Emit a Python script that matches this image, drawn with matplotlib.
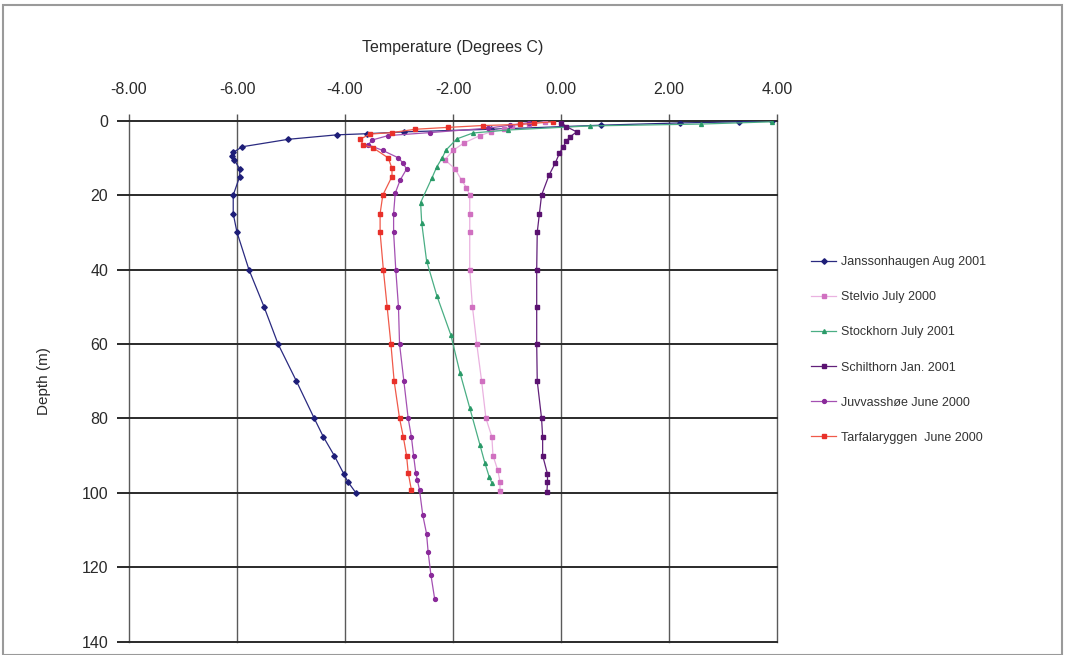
import matplotlib
matplotlib.use("Agg")
import matplotlib.pyplot as plt
from matplotlib.patches import Rectangle

plt.rcParams['font.family'] = ['Liberation Sans', 'DejaVu Sans']

# ---- data (depth in m, temperature in deg C) ----
jan_depth = [0, 0.3, 0.6, 1.2, 2.3, 3.0, 3.5, 3.8, 5, 7, 8.5, 9.5, 10.5, 13, 15, 20, 25, 30, 40, 50, 60, 70, 80, 85, 90, 95, 97, 100]
jan_temp = [3.9, 3.3, 2.2, 0.75, -1.3, -2.9, -3.6, -4.15, -5.05, -5.9, -6.07, -6.1, -6.05, -5.95, -5.95, -6.07, -6.07, -6.0, -5.78, -5.5, -5.24, -4.9, -4.57, -4.4, -4.2, -4.02, -3.95, -3.8]

ste_depth = [0.3, 0.8, 1.5, 2.2, 3.0, 4.0, 6, 8, 10.5, 13, 16, 18, 20, 25, 30, 40, 50, 60, 70, 80, 85, 90, 94, 97, 99.5]
ste_temp = [-0.3, -0.6, -0.9, -1.05, -1.3, -1.5, -1.8, -2.0, -2.15, -1.96, -1.84, -1.75, -1.69, -1.69, -1.69, -1.69, -1.64, -1.56, -1.47, -1.39, -1.28, -1.26, -1.17, -1.13, -1.13]

sto_depth = [0.3, 0.9, 1.4, 2.5, 3.3, 4.9, 7.9, 10, 12.4, 15.4, 22, 27.4, 37.6, 47, 57.6, 67.8, 77.2, 87.2, 92, 95.7, 97.4]
sto_temp = [3.9, 2.6, 0.54, -0.98, -1.63, -1.93, -2.13, -2.2, -2.3, -2.39, -2.6, -2.58, -2.49, -2.3, -2.04, -1.87, -1.69, -1.5, -1.41, -1.33, -1.28]

sch_depth = [0.5, 1.6, 3.0, 4.3, 5.5, 7, 8.8, 11.5, 14.6, 20, 25, 30, 40, 50, 60, 70, 80, 85, 90, 95, 97, 99.7]
sch_temp = [0.0, 0.1, 0.29, 0.17, 0.1, 0.04, -0.03, -0.11, -0.22, -0.36, -0.4, -0.44, -0.45, -0.45, -0.45, -0.44, -0.36, -0.34, -0.34, -0.25, -0.25, -0.26]

juv_depth = [0.5, 1.2, 2, 3.2, 4.0, 5.2, 6.5, 8, 10, 11.5, 13, 16, 19.5, 25, 30, 40, 50, 60, 70, 80, 85, 90, 94.6, 96.6, 99.3, 106, 111, 116, 122, 128.5]
juv_temp = [-0.6, -0.94, -1.35, -2.43, -3.2, -3.5, -3.57, -3.3, -3.01, -2.92, -2.86, -2.98, -3.07, -3.1, -3.1, -3.06, -3.01, -2.99, -2.91, -2.83, -2.77, -2.73, -2.69, -2.66, -2.62, -2.56, -2.49, -2.46, -2.41, -2.34]

tar_depth = [0.3, 0.7, 1.0, 1.3, 1.8, 2.3, 3.2, 3.6, 5.0, 6.5, 7.3, 10, 12.8, 15, 20, 25, 30, 40, 50, 60, 70, 80, 85, 90, 94.6, 99.3]
tar_temp = [-0.15, -0.5, -0.76, -1.45, -2.1, -2.7, -3.13, -3.54, -3.72, -3.66, -3.48, -3.2, -3.13, -3.13, -3.3, -3.35, -3.35, -3.29, -3.22, -3.15, -3.09, -2.99, -2.92, -2.86, -2.83, -2.77]

labels = ["Janssonhaugen Aug 2001", "Stelvio July 2000", "Stockhorn July 2001",
          "Schilthorn Jan. 2001", "Juvvasshøe June 2000", "Tarfalaryggen  June 2000"]
x_ticks = [-8, -6, -4, -2, 0, 2, 4]
y_ticks = [0, 20, 40, 60, 80, 100, 120, 140]

fig = plt.figure(figsize=(10.65, 6.55), dpi=100)
fig.patches.append(Rectangle((0.003, 0.0), 0.994, 0.993, transform=fig.transFigure,
                             fill=False, edgecolor='#9a9a9a', linewidth=1.5))

ax = fig.add_axes([129/1065, 1 - 641.5/655, (777-129)/1065, (641.5-120.7)/655])

series = [
    (jan_temp, jan_depth, '#2a2a80', '#1e1e78', 'D'),
    (ste_temp, ste_depth, '#eab2e0', '#d070c0', 's'),
    (sto_temp, sto_depth, '#4aae84', '#2a9a68', '^'),
    (sch_temp, sch_depth, '#62207a', '#5a1270', 's'),
    (juv_temp, juv_depth, '#a450b2', '#8a2a9a', 'o'),
    (tar_temp, tar_depth, '#f05a4a', '#e8302a', 's'),
]
for (t, d, lc, mc, mk), lab in zip(series, labels):
    ax.plot(t, d, color=lc, lw=0.9, marker=mk, markersize=2.8,
            markerfacecolor=mc, markeredgecolor=mc, label=lab, zorder=3)

ax.set_xlim(-8, 4)
ax.set_ylim(140, 0)
ax.set_xticks(x_ticks)
ax.set_xticklabels([f"{v:.2f}" for v in x_ticks])
ax.set_yticks(y_ticks)
ax.xaxis.tick_top()
ax.xaxis.set_label_position('top')
ax.set_xlabel("Temperature (Degrees C)", fontsize=11.5, color='#2a2a2a', labelpad=22)
ax.set_ylabel("Depth (m)", fontsize=11, color='#2a2a2a', labelpad=22)
ax.tick_params(axis='x', length=5, width=1.0, color='#555555', labelsize=11.5,
               labelcolor='#2a2a2a', pad=12)
ax.tick_params(axis='y', length=9, width=1.4, color='#2a2a2a', labelsize=11.5,
               labelcolor='#2a2a2a', pad=6)
for s in ax.spines.values():
    s.set_visible(False)
ax.grid(axis='y', color='#2a2a2a', lw=1.4, zorder=1)
ax.grid(axis='x', color='#5a5a5a', lw=1.0, zorder=1)
for gl in ax.get_xgridlines() + ax.get_ygridlines():
    gl.set_clip_on(False)

fig.legend(loc='center left', bbox_to_anchor=(800/1065, 1 - 350/655), frameon=False,
           fontsize=9, labelspacing=1.85, handlelength=2.0, handletextpad=0.4,
           labelcolor='#333333')

fig.savefig("out.png", dpi=100)
